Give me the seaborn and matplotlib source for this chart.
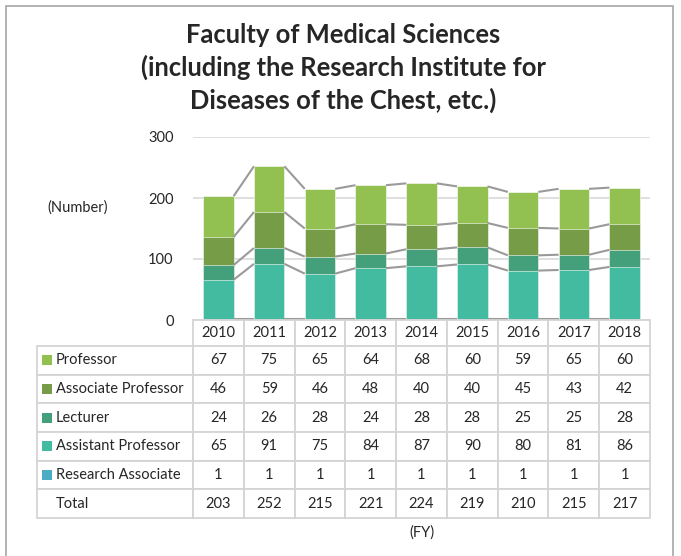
import numpy as np
import pandas as pd
import matplotlib
matplotlib.use('Agg')
import matplotlib.pyplot as plt
import seaborn as sns
from matplotlib.patches import Rectangle

# data
years = ['2010', '2011', '2012', '2013', '2014', '2015', '2016', '2017', '2018']
professor = [67, 75, 65, 64, 68, 60, 59, 65, 60]
assoc_professor = [46, 59, 46, 48, 40, 40, 45, 43, 42]
lecturer = [24, 26, 28, 24, 28, 28, 25, 25, 28]
assistant_professor = [65, 91, 75, 84, 87, 90, 80, 81, 86]
research_associate = [1, 1, 1, 1, 1, 1, 1, 1, 1]

series_names = ['Professor', 'Associate Professor', 'Lecturer',
                'Assistant Professor', 'Research Associate']
series_values = [professor, assoc_professor, lecturer,
                 assistant_professor, research_associate]
colors = ['#92C152', '#779C48', '#43A07A', '#42BBA0', '#4BACC6']

sns.set_style('white')
plt.rcParams['font.family'] = ['Lato', 'DejaVu Sans']
txt = '#262626'

W, H = 681, 556
fig = plt.figure(figsize=(W / 100, H / 100), dpi=100)


def fx(px):
    return px / W


def fy(py):
    return 1 - py / H


# outer frame
fig.add_artist(Rectangle((fx(6), fy(600)), fx(673) - fx(6), fy(6) - fy(600),
                         transform=fig.transFigure, fill=False,
                         edgecolor='#A6A6A6', linewidth=1.2))

# title
fig.text(fx(343), fy(68), 'Faculty of Medical Sciences\n(including the Research Institute for\nDiseases of the Chest, etc.)',
         ha='center', va='center', fontsize=18.4, fontweight='bold', color=txt,
         linespacing=1.38)

# plot area
ax = fig.add_axes([fx(193), fy(320), fx(650) - fx(193), fy(137) - fy(320)])

df = pd.DataFrame({'year': years})
cum = np.zeros(len(years))
cums = []
for vals in series_values[::-1]:
    cum = cum + np.array(vals)
    cums.append(cum.copy())
# cums[k] = top of stack after adding series from the bottom
stack_colors = colors[::-1]

# draw tallest first so smaller cumulative bars overlay
for k in range(len(cums) - 1, -1, -1):
    df['v'] = cums[k]
    sns.barplot(data=df, x='year', y='v', color=stack_colors[k], ax=ax,
                width=0.6, saturation=1, edgecolor='white', linewidth=0.4,
                zorder=2)

# series lines between bars
for k in range(len(cums)):
    c = cums[k]
    for i in range(len(years) - 1):
        ax.plot([i + 0.3, i + 0.7], [c[i], c[i + 1]], color='#9A9A9A',
                linewidth=1.5, zorder=3, solid_capstyle='butt')

ax.set_xlim(-0.5, len(years) - 0.5)
ax.set_ylim(0, 300)
ax.set_yticks([0, 100, 200, 300])
ax.yaxis.grid(True, color='#D9D9D9', linewidth=1.2)
ax.set_axisbelow(True)
for s in ax.spines.values():
    s.set_visible(False)
ax.set_xticks([])
ax.set_xlabel('')
ax.set_ylabel('')
ax.tick_params(axis='y', length=0, pad=14, labelsize=10.5, labelcolor=txt)

fig.text(fx(78), fy(208), '(Number)', ha='center', va='center', fontsize=10.5, color=txt)
fig.text(fx(422), fy(533), '(FY)', ha='center', va='center', fontsize=10.5, color=txt)

# data table
tax = fig.add_axes([fx(37), fy(518), fx(650) - fx(37), fy(320) - fy(518)])
tax.axis('off')
totals = [str(int(t)) for t in cums[-1]]
cell_text = [[''] + years]
for name, vals in zip(series_names, series_values):
    cell_text.append([name] + [str(v) for v in vals])
cell_text.append(['Total'] + totals)

label_w = 156
col_w = (650 - 193) / len(years)
col_widths = [label_w] + [col_w] * len(years)
tbl = tax.table(cellText=cell_text, colWidths=col_widths, bbox=[0, 0, 1, 1],
                cellLoc='center')
tbl.auto_set_font_size(False)
row_h = [26] + [28.7] * 6
for (r, c), cell in tbl.get_celld().items():
    cell.set_height(row_h[r])
    cell.set_edgecolor('#D4D4D4')
    cell.set_linewidth(1.3)
    cell.get_text().set_fontsize(10.5)
    cell.get_text().set_color(txt)
    if c == 0:
        cell.get_text().set_ha('left')
        cell.PAD = 0.12
    if r == 0 and c == 0:
        cell.set_linewidth(0)
        cell.set_facecolor('none')
        cell.set_edgecolor('none')

# legend keys in the table
y_top = 346
for i, col in enumerate(colors):
    yc = y_top + 28.7 * i + 14.3
    fig.add_artist(Rectangle((fx(42), fy(yc + 5)), fx(10), 10 / H,
                             transform=fig.transFigure, facecolor=col,
                             edgecolor='none'))

fig.savefig('out.png', dpi=100)
